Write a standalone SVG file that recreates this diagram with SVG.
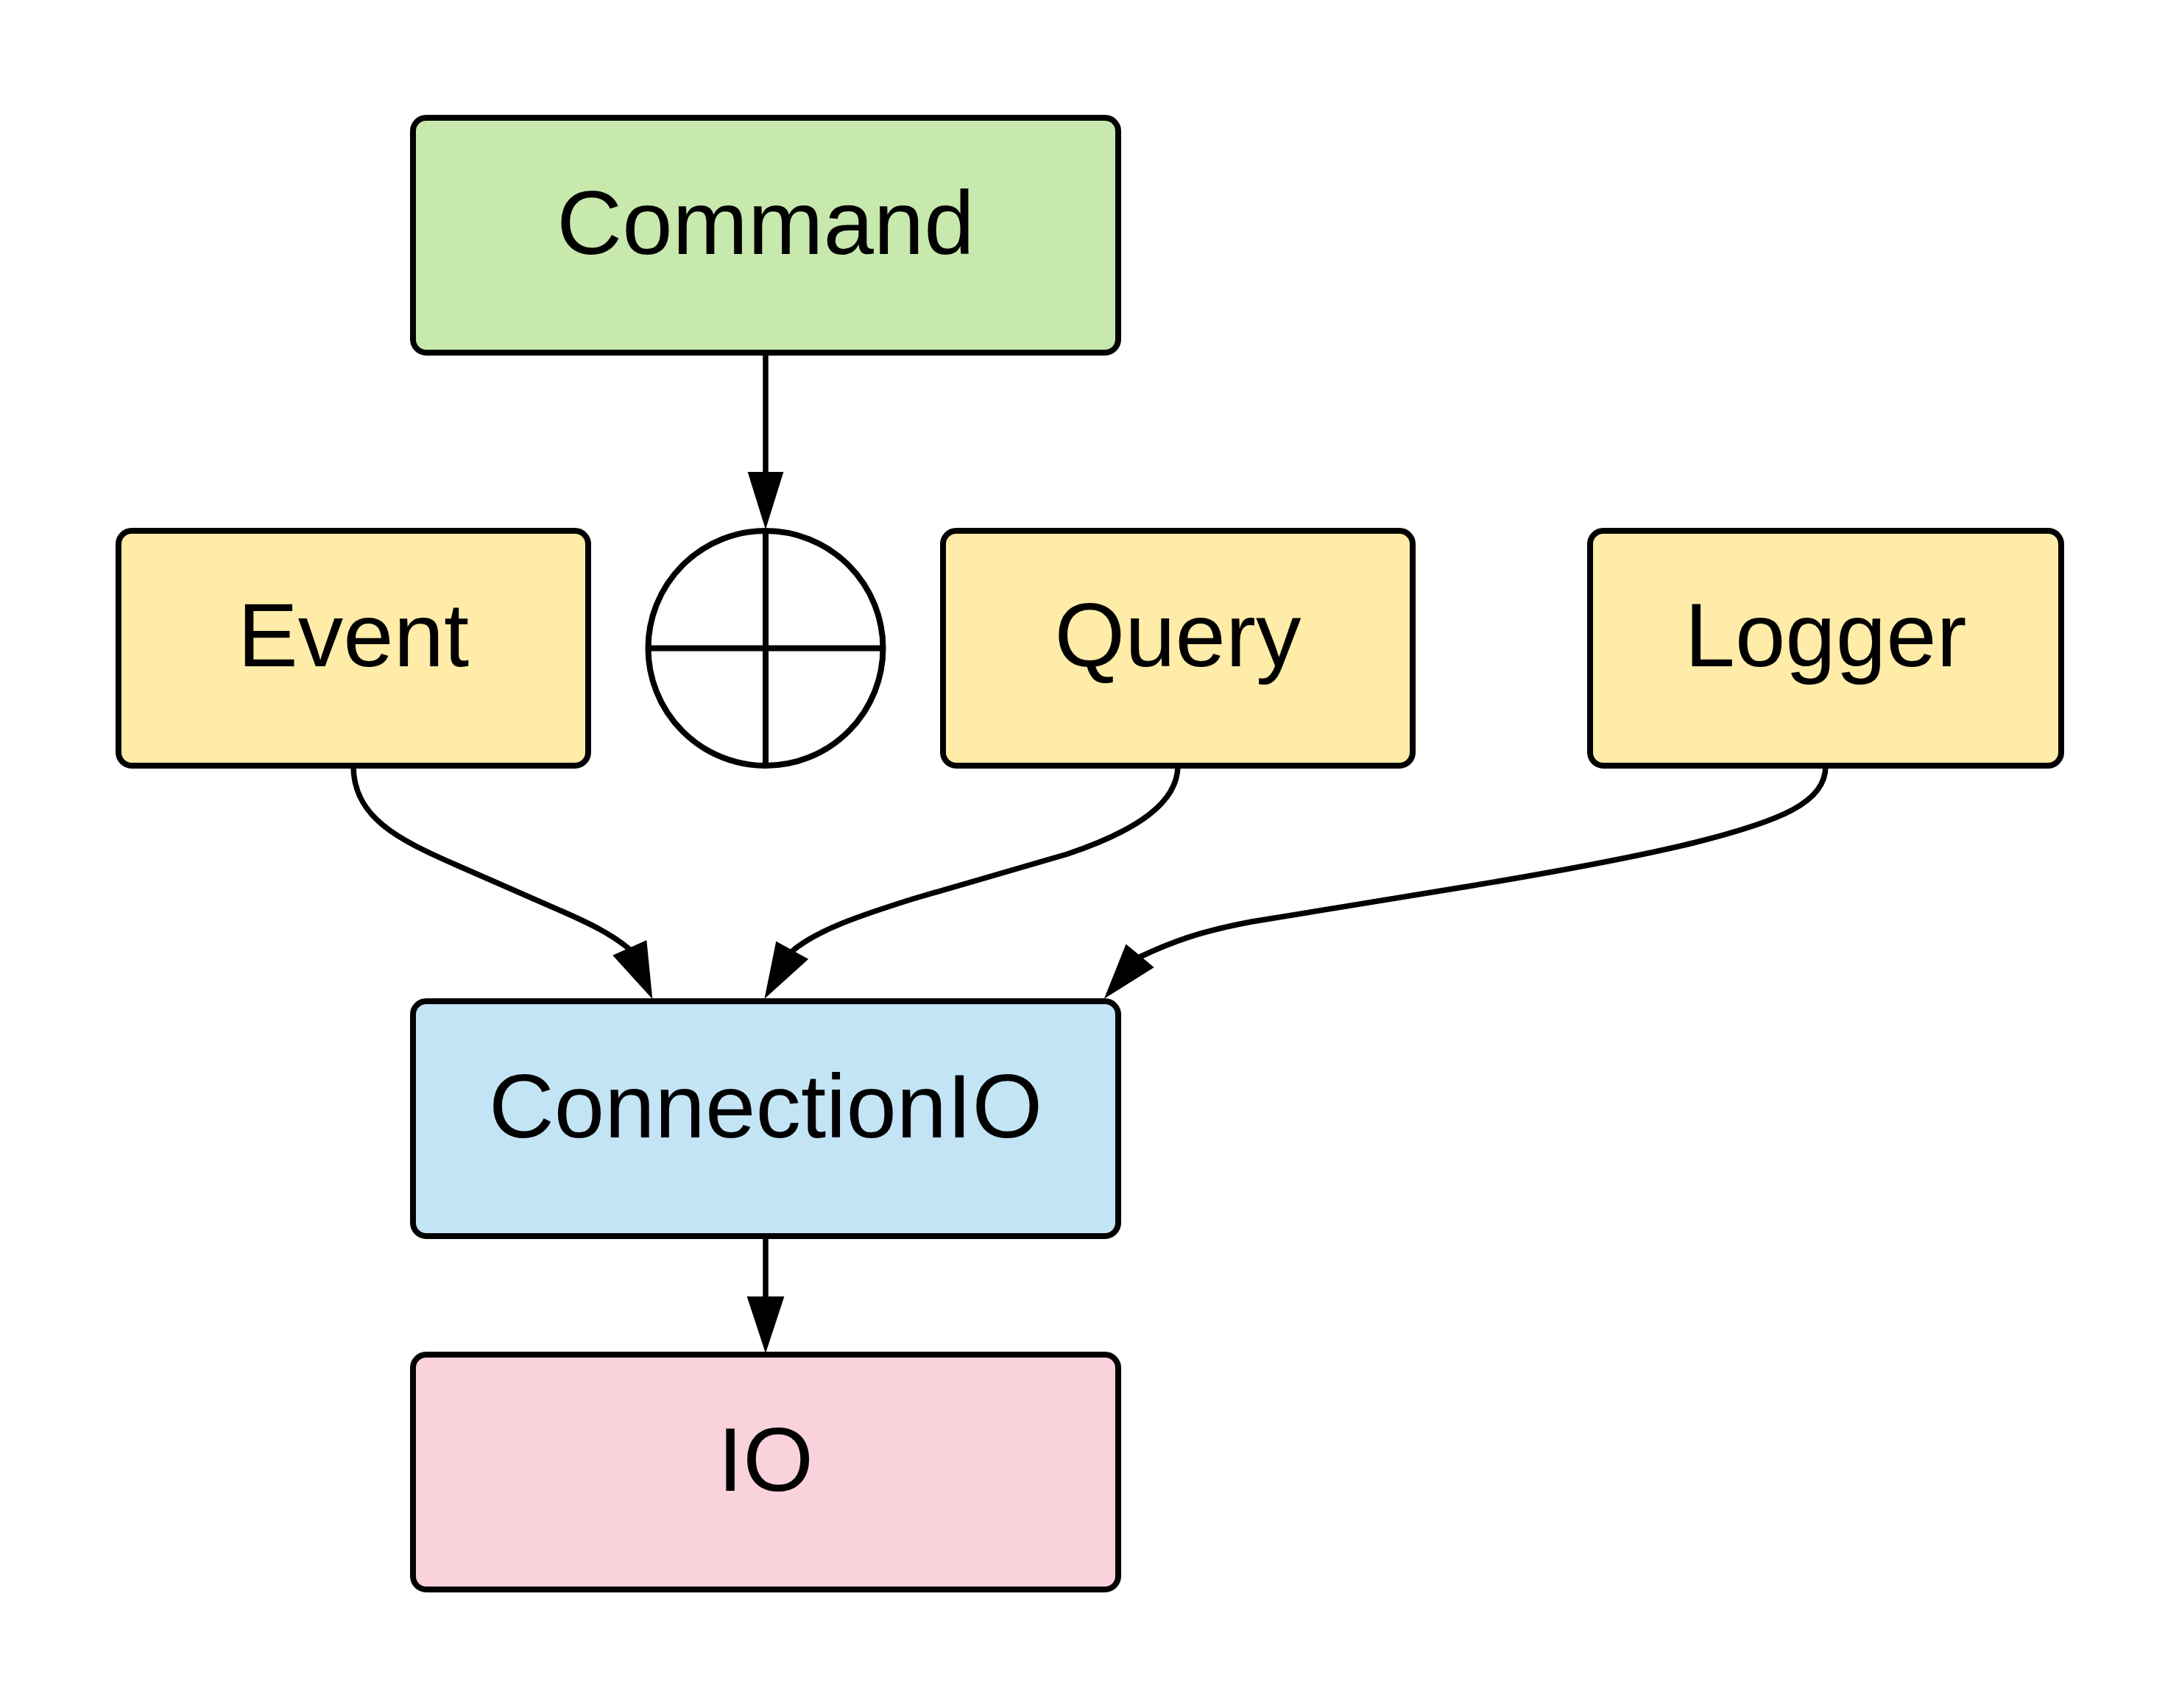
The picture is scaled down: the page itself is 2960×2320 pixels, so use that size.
<svg xmlns="http://www.w3.org/2000/svg" width="2960" height="2320" viewBox="0 0 2960 2320">
<style>
.box{stroke:#000;stroke-width:8}
.lbl{font-family:"Liberation Sans",Arial,sans-serif;font-size:123px;fill:#000;text-anchor:middle}
.edge{fill:none;stroke:#000;stroke-width:7.5}
.head{fill:#000;stroke:#000;stroke-width:2;stroke-linejoin:miter}
</style>
<rect width="2960" height="2320" fill="#fff"/>
<g id="Command"><rect class="box" x="561" y="160" width="958" height="319" rx="18" fill="#C7E9AD"/><text class="lbl" x="1040" y="345">Command</text></g>
<g id="Event"><rect class="box" x="161" y="721" width="638" height="319" rx="18" fill="#FFECA8"/><text class="lbl" x="480" y="905">Event</text></g>
<g id="Junction"><circle class="box" cx="1040" cy="880.5" r="159.5" fill="#fff"/><line class="box" x1="1040" y1="721" x2="1040" y2="1040"/><line class="box" x1="880.5" y1="880.5" x2="1199.5" y2="880.5"/></g>
<g id="Query"><rect class="box" x="1281" y="721" width="638" height="319" rx="18" fill="#FFECA8"/><text class="lbl" x="1600" y="905">Query</text></g>
<g id="Logger"><rect class="box" x="2160" y="721" width="640" height="319" rx="18" fill="#FFECA8"/><text class="lbl" x="2480" y="905">Logger</text></g>
<g id="ConnectionIO"><rect class="box" x="561" y="1360" width="958" height="319" rx="18" fill="#C3E4F5"/><text class="lbl" x="1040" y="1545">ConnectionIO</text></g>
<g id="IO"><rect class="box" x="561" y="1840" width="958" height="319" rx="18" fill="#F9D2DC"/><text class="lbl" x="1040" y="2025">IO</text></g>
<g id="connectors">
<path class="edge" d="M1040,479 L1040,645"/>
<polygon class="head" points="1017,642 1063,642 1040,716"/>
<path class="edge" d="M480,1040 C480,1110 540,1140 620,1175 L764,1238 C800,1254 830,1268 856,1290"/>
<polygon class="head" points="834,1298 877.5,1278.5 885,1354"/>
<path class="edge" d="M1600,1040 C1600,1090 1545,1128 1450,1160 L1240,1221 C1170,1243 1110,1263 1076,1292"/>
<polygon class="head" points="1055,1280 1096.5,1303 1040,1354"/>
<path class="edge" d="M2480,1040 C2480,1090 2420,1115 2300,1145 C2230,1162 2150,1178 2000,1203 L1700,1252 C1630,1265 1590,1280 1548,1300"/>
<polygon class="head" points="1530,1284 1566,1314 1502,1354"/>
<path class="edge" d="M1040,1680 L1040,1765"/>
<polygon class="head" points="1016,1762 1064,1762 1040,1835"/>
</g>
</svg>
